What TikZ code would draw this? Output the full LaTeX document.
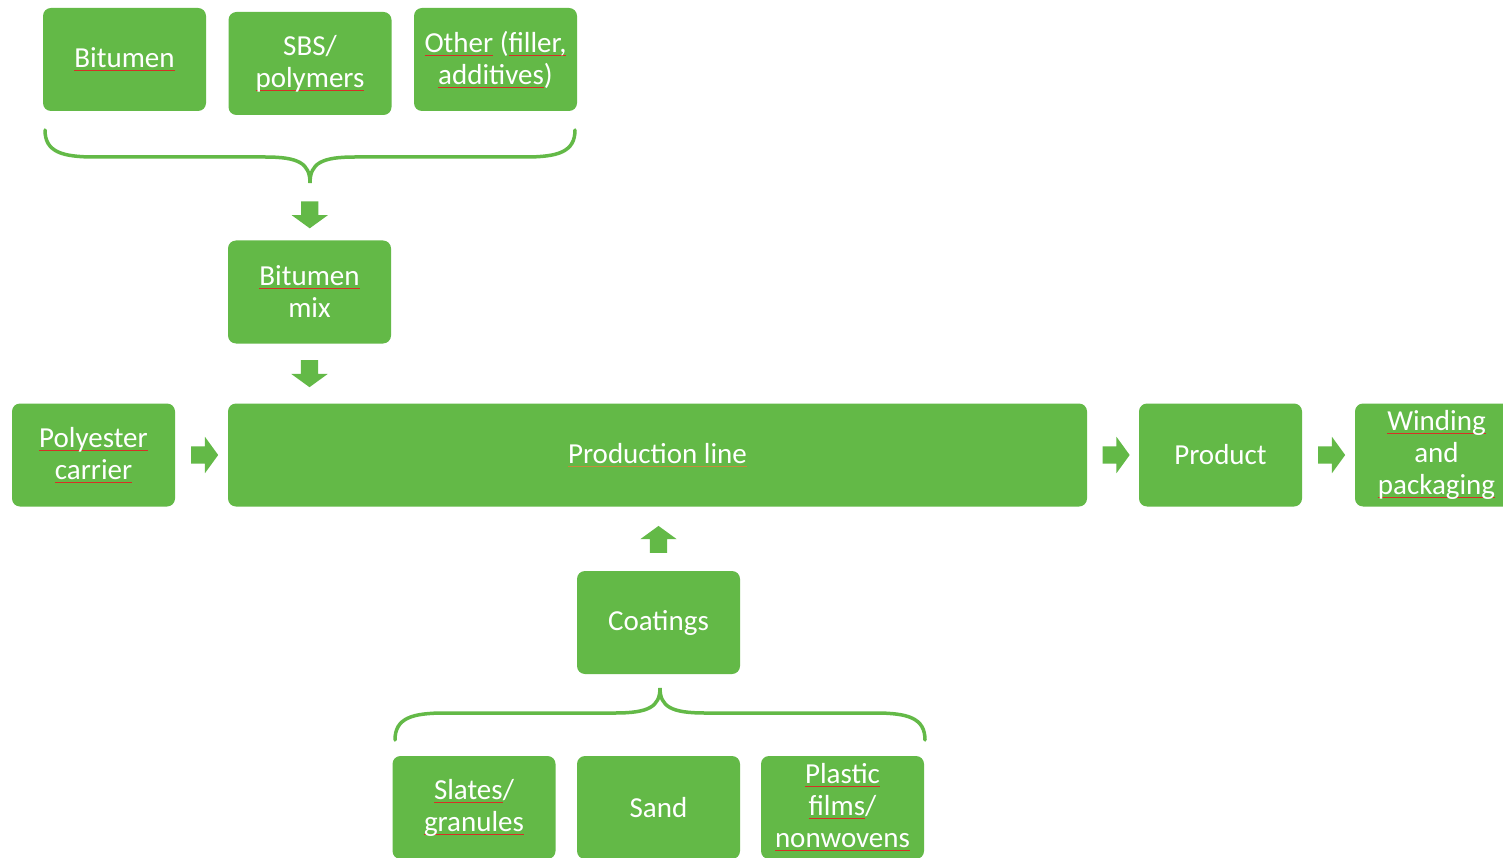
\documentclass[tikz,border=0pt]{standalone}
\usepackage{fontspec}
\setmainfont{Carlito}
\usetikzlibrary{shapes.arrows,calc}
\definecolor{boxgreen}{RGB}{99,185,71}
\definecolor{spell}{RGB}{214,48,38}
\definecolor{gram}{RGB}{196,140,60}
\newsavebox\sqbox
\newcommand\sq[1]{\sbox\sqbox{#1}\rlap{\color{spell}\raisebox{-3.5pt}{\rule{\wd\sqbox}{1pt}}}\usebox\sqbox}
\newcommand\gq[1]{\sbox\sqbox{#1}\rlap{\color{gram}\raisebox{-3.5pt}{\rule{\wd\sqbox}{1pt}}}\usebox\sqbox}
\begin{document}
\begin{tikzpicture}[x=1pt,y=-1pt,
  box/.style={fill=boxgreen, rounded corners=8pt, minimum width=163pt, minimum height=103pt,
    text=white, align=center, inner sep=0pt, font=\fontsize{29}{32}\selectfont},
  blockarrow/.style={single arrow, fill=boxgreen, draw=none, inner xsep=0pt, inner ysep=8.5pt,
    single arrow head extend=9.5pt, single arrow tip angle=108, minimum height=27pt},
  brace/.style={draw=boxgreen, line width=3.5pt, line cap=round}]
\clip (0,0) rectangle (1503,858);
\fill[white] (0,0) rectangle (1503,858);
% top inputs
\node[box] (bit) at (124.5,59.5) {\sq{Bitumen}};
\node[box] (sbs) at (310,63.5) {SBS/\\\sq{polymers}};
\node[box] (oth) at (495.5,59.5) {\sq{Other} (\sq{filler,}\\\sq{additives})};
% top brace
\coordinate (tbl) at (45,130);
\coordinate (tbr) at (575,130);
\coordinate (tbt) at (310,183);
\draw[brace] (tbl) .. controls (45,152) and (62,157) .. (95,157) -- (265,157)
  .. controls (298,157) and (310,163) .. (tbt)
  .. controls (310,163) and (322,157) .. (355,157) -- (525,157)
  .. controls (558,157) and (575,152) .. (tbr);
% bitumen mix
\node[box] (mix) at (309.5,292) {\sq{Bitumen}\\mix};
\node[blockarrow, rotate=-90] (a1) at ($(tbt)!0.5!(mix.north)$) {};
% main row
\node[box] (poly) at (93.5,455) {\sq{Polyester}\\\sq{carrier}};
\node[box, minimum width=859pt] (pl) at (657.5,455) {\gq{Production line}};
\node[box] (prod) at (1220.5,455) {Product};
\node[box] (wind) at (1436.5,455) {\sq{Winding}\\and\\\sq{packaging}};
\node[blockarrow, rotate=-90] (a2) at ($(mix.south)!0.45!(mix.south|-pl.north)$) {};
\node[blockarrow] (a3) at ($(poly.east)!0.5!(pl.west)$) {};
\node[blockarrow] (a4) at ($(pl.east)!0.5!(prod.west)$) {};
\node[blockarrow] (a5) at ($(prod.east)!0.5!(wind.west)$) {};
% coatings
\node[box] (coat) at (658.5,622.5) {Coatings};
\node[blockarrow, rotate=90] (a6) at ($(coat.north)!0.44!(coat.north|-pl.south)$) {};
% bottom brace
\coordinate (bbl) at (395,740);
\coordinate (bbr) at (925,740);
\coordinate (bbt) at (660,688);
\draw[brace] (bbl) .. controls (395,718) and (412,713) .. (445,713) -- (615,713)
  .. controls (648,713) and (660,707) .. (bbt)
  .. controls (660,707) and (672,713) .. (705,713) -- (875,713)
  .. controls (908,713) and (925,718) .. (bbr);
% bottom inputs
\node[box] (sla) at (474,807.5) {\sq{Slates}/\\\sq{granules}};
\node[box] (san) at (658.5,807.5) {Sand};
\node[box] (pla) at (842.5,807.5) {\sq{Plastic}\\\sq{films}/\\\sq{nonwovens}};
\end{tikzpicture}
\end{document}
